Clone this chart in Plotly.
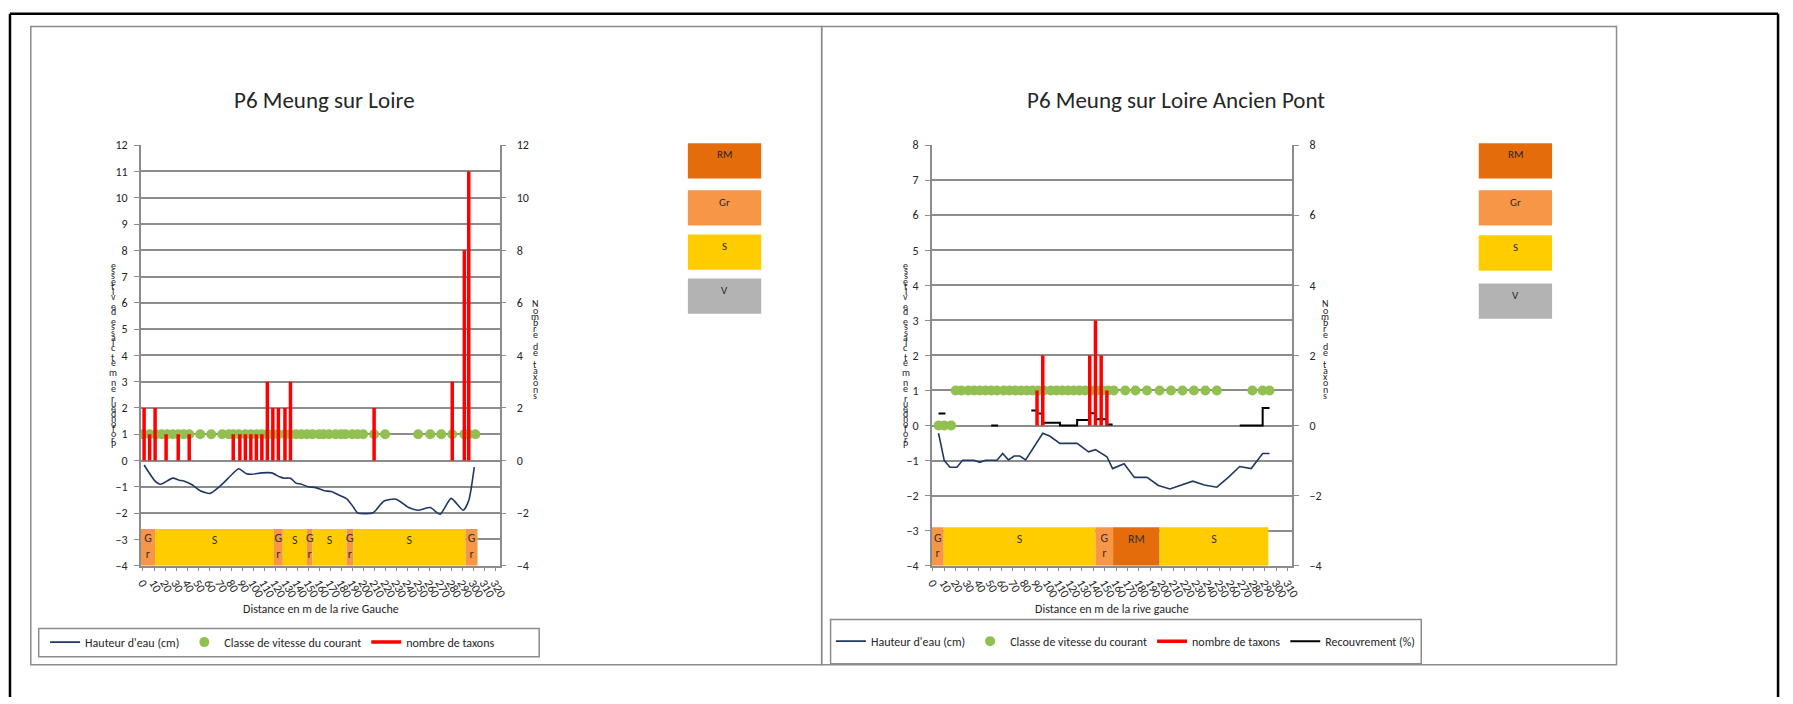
import plotly.graph_objects as go

W, H = 1793, 704
FONT = "Carlito, Calibri, Lato, 'Open Sans', sans-serif"

# ---- left chart : P6 Meung sur Loire ----
left_depth_x = [1, 11, 16, 27, 33, 37, 45, 52, 61, 72, 81, 87, 94, 99, 108, 117, 124, 128, 134, 139,
                144, 150, 156, 165, 171, 179, 185, 191, 195, 209, 219, 230, 242, 250, 261, 270, 280, 291, 296, 301]
left_depth_y = [-0.17, -0.78, -0.9, -0.67, -0.75, -0.78, -0.93, -1.15, -1.25, -0.9, -0.52, -0.31, -0.5, -0.52,
                -0.47, -0.47, -0.62, -0.67, -0.67, -0.86, -0.9, -1.0, -1.02, -1.15, -1.18, -1.33, -1.45, -1.76,
                -1.99, -1.99, -1.54, -1.47, -1.8, -1.89, -1.79, -2.04, -1.44, -1.89, -1.52, -0.25]
left_speed_x = [0, 6, 12, 17, 22, 27, 32, 37, 42, 52, 62, 72, 78, 82, 87, 93, 98, 103, 108, 113, 118, 123, 129,
                134, 139, 144, 149, 154, 160, 164, 169, 175, 180, 184, 190, 195, 200, 210, 220, 250, 261, 271,
                281, 292, 296, 302]
left_speed_y = [1, 1, 1, 1, 1, 1, 1, 1, 1, 1, 1, 1, 1, 1, 1, 1, 1, 1, 1, 1, 1, 1, 1,
                1, 1, 1, 1, 1, 1, 1, 1, 1, 1, 1, 1, 1, 1, 1, 1, 1, 1, 1, 1, 1, 1, 1]
left_taxa_x = [1, 6, 11, 21, 32, 42, 82, 88, 93, 98, 103, 108, 113, 118, 123, 129, 134, 210, 281, 292, 296]
left_taxa_n = [2, 1, 2, 1, 1, 1, 1, 1, 1, 1, 1, 1, 3, 2, 2, 2, 3, 2, 3, 8, 11]
left_sub_start = [-2, 11, 119, 127, 149, 154, 185, 191, 293]
left_sub_end = [11, 119, 127, 149, 154, 185, 191, 293, 304]
left_sub_type = ["Gr", "S", "Gr", "S", "Gr", "S", "Gr", "S", "Gr"]
left_sub_top = -2.6

# ---- right chart : P6 Meung sur Loire Ancien Pont ----
right_depth_x = [5, 10, 15, 21, 26, 36, 41, 46, 56, 61, 66, 71, 76, 81, 96, 102, 111, 126, 136, 142,
                 152, 157, 167, 176, 187, 197, 207, 217, 227, 237, 248, 258, 268, 278, 288, 294]
right_depth_y = [-0.22, -1.0, -1.19, -1.19, -0.99, -0.99, -1.05, -0.99, -0.99, -0.8, -0.98, -0.87, -0.87, -0.98,
                 -0.22, -0.3, -0.51, -0.51, -0.75, -0.69, -0.89, -1.23, -1.09, -1.48, -1.48, -1.71, -1.81, -1.7,
                 -1.59, -1.7, -1.76, -1.48, -1.17, -1.23, -0.8, -0.8]
right_speed_x = [5, 10, 16, 20, 25, 31, 36, 41, 46, 51, 56, 62, 67, 72, 77, 82, 87, 92, 97, 103, 108, 113,
                 118, 123, 128, 133, 138, 143, 148, 153, 158, 168, 177, 187, 198, 208, 218, 228, 238, 248,
                 279, 288, 294]
right_speed_y = [0, 0, 0, 1, 1, 1, 1, 1, 1, 1, 1, 1, 1, 1, 1, 1, 1, 1, 1, 1, 1, 1,
                 1, 1, 1, 1, 1, 1, 1, 1, 1, 1, 1, 1, 1, 1, 1, 1, 1, 1, 1, 1, 1]
right_taxa_x = [91, 96, 137, 142, 147, 152]
right_taxa_n = [1, 2, 2, 3, 2, 1]
right_cover_x = [5, 11, None, 51, 57, None, 86, 91, 96, 111, 126, 137, 142, 152, 157, None, 268, 288, 294]
right_cover_y = [0.34, 0.34, None, 0, 0, None, 0.43, 0.34, 0.08, 0, 0.16, 0.35, 0.18, 0.03, 0.03, None,
                 0, 0.5, 0.5]
right_sub_start = [-1, 9.5, 142, 157.4, 198]
right_sub_end = [9.5, 142, 157.4, 198, 293]
right_sub_type = ["Gr", "S", "Gr", "RM", "S"]
right_sub_top = -2.9

sub_colors = {"RM": "#e46c0a", "Gr": "#f79646", "S": "#ffcc00", "V": "#b3b3b3"}
sub_key = ["RM", "Gr", "S", "V"]

NAVY = "#1f3864"
GREEN = "#92c050"
GRID = "#8c8c8c"
TXT = "#262626"


def px(x):
    return x / W


def py(y):
    return 1 - y / H


fig = go.Figure()


def add_chart(xa, ya, ya2, depth_x, depth_y, speed_x, speed_y, taxa_x, taxa_n,
              s_start, s_end, s_type, s_top, legend, smooth):
    centers = [(a + b) / 2 for a, b in zip(s_start, s_end)]
    widths = [b - a for a, b in zip(s_start, s_end)]
    fig.add_trace(go.Bar(
        x=centers, y=[s_top + 4 for _ in centers], base=-4, width=widths,
        marker=dict(color=[sub_colors[t] for t in s_type], line_width=0),
        xaxis=xa, yaxis=ya, showlegend=False, hoverinfo="skip"))
    mid = (s_top - 4) / 2
    fig.add_trace(go.Scatter(
        x=centers, y=[mid for _ in centers], mode="text",
        text=["G<br>r" if t == "Gr" else t for t in s_type],
        textposition=["middle center" if t == "Gr" else "top center" for t in s_type],
        textfont=dict(size=12, color="#333333", family=FONT),
        xaxis=xa, yaxis=ya, showlegend=False, hoverinfo="skip"))
    fig.add_trace(go.Scatter(
        x=depth_x, y=depth_y, mode="lines", name="Hauteur d'eau (cm)",
        line=dict(color=NAVY, width=1.6, shape="spline" if smooth else "linear", smoothing=0.6),
        xaxis=xa, yaxis=ya, legend=legend))
    fig.add_trace(go.Scatter(
        x=speed_x, y=speed_y, mode="markers", name="Classe de vitesse du courant",
        marker=dict(color=GREEN, size=10), xaxis=xa, yaxis=ya, legend=legend))
    tx, ty = [], []
    for x, n in zip(taxa_x, taxa_n):
        tx += [x, x, None]
        ty += [0, n, None]
    fig.add_trace(go.Scatter(
        x=tx, y=ty, mode="lines", name="nombre de taxons",
        line=dict(color="#ff0000", width=3.5), xaxis=xa, yaxis=ya2, legend=legend))


add_chart("x", "y", "y2", left_depth_x, left_depth_y, left_speed_x, left_speed_y,
          left_taxa_x, left_taxa_n, left_sub_start, left_sub_end, left_sub_type, left_sub_top,
          "legend", True)
add_chart("x2", "y3", "y4", right_depth_x, right_depth_y, right_speed_x, right_speed_y,
          right_taxa_x, right_taxa_n, right_sub_start, right_sub_end, right_sub_type, right_sub_top,
          "legend2", False)
fig.add_trace(go.Scatter(
    x=right_cover_x, y=right_cover_y, mode="lines", name="Recouvrement (%)",
    line=dict(color="black", width=2, shape="hv"), connectgaps=False,
    xaxis="x2", yaxis="y3", legend="legend2"))

tickfont = dict(size=12, color=TXT, family=FONT)
xcommon = dict(dtick=10, tick0=0, tickangle=60, ticks="outside", ticklen=4, tickcolor=GRID,
               showline=True, linecolor=GRID, linewidth=1.5, showgrid=False, zeroline=False,
               tickfont=tickfont)
ycommon = dict(ticks="outside", ticklen=5, tickcolor=GRID, showline=True, linecolor=GRID,
               linewidth=1.5, zeroline=False, tickfont=tickfont)
ydom = [py(570), py(141)]
legfont = dict(size=12, family=FONT, color=TXT)

fig.update_layout(
    width=W, height=H, margin=dict(l=0, r=0, t=0, b=0),
    paper_bgcolor="white", plot_bgcolor="white", barmode="overlay",
    font=dict(family=FONT, color=TXT),
    xaxis=dict(domain=[px(135), px(497)], range=[-2, 324], anchor="y", **xcommon),
    yaxis=dict(domain=ydom, range=[-4, 12], dtick=1, anchor="x", showgrid=True,
               gridcolor=GRID, gridwidth=1.5, ticklabelstandoff=4, **ycommon),
    yaxis2=dict(range=[-4, 12], dtick=2, overlaying="y", side="right", anchor="x",
                showgrid=False, ticklabelstandoff=8, **ycommon),
    xaxis2=dict(domain=[px(933), px(1297)], range=[-1, 314], anchor="y3", **xcommon),
    yaxis3=dict(domain=ydom, range=[-4, 8], dtick=1, anchor="x2", showgrid=True,
                gridcolor=GRID, gridwidth=1.5, ticklabelstandoff=4, **ycommon),
    yaxis4=dict(range=[-4, 8], dtick=2, overlaying="y3", side="right", anchor="x2",
                showgrid=False, ticklabelstandoff=8, **ycommon),
    legend=dict(orientation="h", x=px(268), y=py(648), xanchor="center", yanchor="middle",
                font=legfont, bgcolor="rgba(0,0,0,0)", itemwidth=30),
    legend2=dict(orientation="h", x=px(1129), y=py(647), xanchor="center", yanchor="middle",
                 font=legfont, bgcolor="rgba(0,0,0,0)", itemwidth=30),
)

shapes = []


def rect(x0, y0, x1, y1, color, width=1.5):
    shapes.append(dict(type="rect", xref="paper", yref="paper", x0=px(x0), x1=px(x1),
                       y0=py(y1), y1=py(y0), line=dict(color=color, width=width), layer="below"))


def line(x0, y0, x1, y1, color, width):
    shapes.append(dict(type="line", xref="paper", yref="paper", x0=px(x0), x1=px(x1),
                       y0=py(y0), y1=py(y1), line=dict(color=color, width=width)))


# outer frame (top, left, right)
line(3, 7, 1787, 7, "black", 2.5)
line(3, 7, 3, 704, "black", 2.5)
line(1787, 7, 1787, 704, "black", 2.5)
rect(24, 20, 822, 671, "#8c8c8c", 1.5)
rect(822, 20, 1624, 671, "#8c8c8c", 1.5)
rect(32, 634, 537, 663, "#8c8c8c", 1.5)
rect(831, 625, 1427, 670, "#8c8c8c", 1.5)

annotations = []


def text(x, y, s, size=12):
    annotations.append(dict(xref="paper", yref="paper", x=px(x), y=py(y), text=s, showarrow=False,
                            xanchor="center", yanchor="middle",
                            font=dict(size=size, family=FONT, color=TXT)))


# substrate key boxes
key_tops = [[139, 187, 232, 277], [139, 187, 233, 282]]
for (x0, x1), tops in zip([(687, 761), (1485, 1559)], key_tops):
    for k, t in zip(sub_key, tops):
        shapes.append(dict(type="rect", xref="paper", yref="paper", x0=px(x0), x1=px(x1),
                           y0=py(t + 36), y1=py(t), line=dict(width=0), fillcolor=sub_colors[k]))
        text((x0 + x1) / 2, t + 12, k, size=11)

text(320, 95, "P6 Meung sur Loire", size=23)
text(1180, 95, "P6 Meung sur Loire Ancien Pont", size=23)
text(317, 614, "Distance en m de la rive Gauche", size=12)
text(1115, 614, "Distance en m de la rive gauche", size=12)


def stacked(x, y0, y1, s):
    chars = list(s)
    step = (y1 - y0) / (len(chars) - 1)
    for i, c in enumerate(chars):
        if c != " ":
            text(x, y0 + i * step, c, size=10)


# the axis titles are drawn as stacked letters, bottom to top
left_title = "Profondeur en m et classe de vitesse"[::-1]
stacked(107, 264, 446, left_title)
stacked(907, 264, 446, left_title)
stacked(533, 303, 396, "Nombre de taxons")
stacked(1330, 303, 396, "Nombre de taxons")

fig.update_layout(shapes=shapes, annotations=annotations)

fig.write_html("out.html", config={"displayModeBar": False},
               post_script="document.body.style.margin='0';")
